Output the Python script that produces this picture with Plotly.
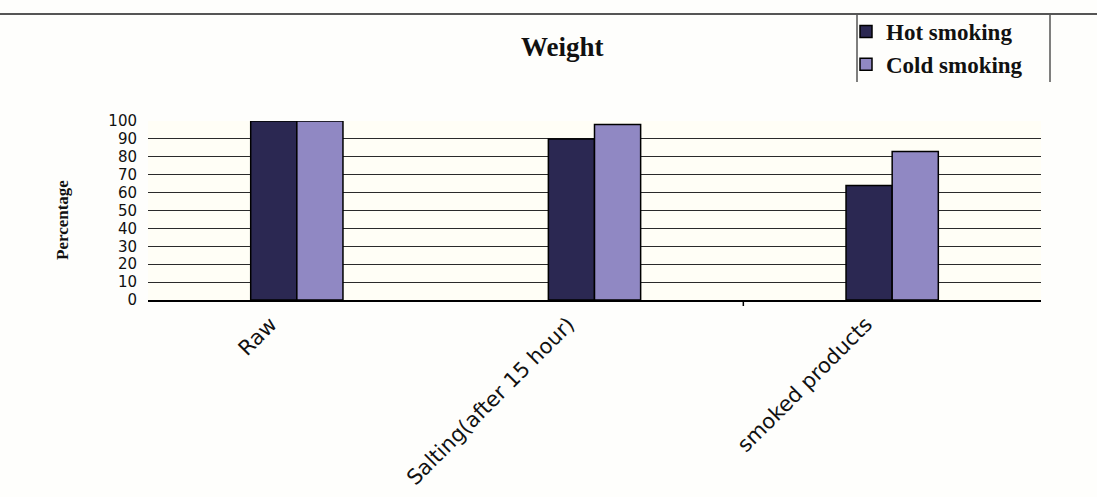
import plotly.graph_objects as go

# Weight retained at each processing stage (percent of raw weight)
stages = ["Raw", "Salting(after 15 hour)", "smoked products"]
hot_smoking = [100, 90, 64]
cold_smoking = [100, 98, 83]
y_ticks = [0, 10, 20, 30, 40, 50, 60, 70, 80, 90, 100]

W, H = 1097, 497
L, R, T, B = 148, 56, 121, 197
PW, PH = W - L - R, 300 - T


def px_x(px):
    return (px - L) / PW


def px_y(py):
    return (300 - py) / PH


fig = go.Figure()
fig.add_trace(go.Bar(
    x=stages, y=hot_smoking, name="Hot smoking",
    marker=dict(color="#2b2852", line=dict(color="#000000", width=1.5)),
))
fig.add_trace(go.Bar(
    x=stages, y=cold_smoking, name="Cold smoking",
    marker=dict(color="#9088c3", line=dict(color="#000000", width=1.5)),
))

fig.update_layout(
    width=W, height=H,
    margin=dict(l=L, r=R, t=T, b=B, autoexpand=False),
    paper_bgcolor="#fefefc",
    plot_bgcolor="#fffef6",
    barmode="group",
    bargap=0.69,
    bargroupgap=0,
    showlegend=True,
    legend=dict(
        x=px_x(846), y=px_y(10),
        xanchor="left", yanchor="top",
        bgcolor="rgba(0,0,0,0)",
        font=dict(family="Liberation Serif", size=23, color="#111111", weight="bold"),
        itemwidth=30,
        tracegroupgap=8,
    ),
    font=dict(family="Liberation Sans", color="#111111"),
)

fig.update_xaxes(
    automargin=False,
    showline=True, linecolor="#000000", linewidth=1.5,
    ticks="", tickangle=-45,
    tickfont=dict(family="DejaVu Sans", size=21, color="#111111"),
    ticklabelshift=-26,
    ticklabelstandoff=2,
    showgrid=False,
)
fig.update_yaxes(
    automargin=False,
    range=[0, 100], tickvals=y_ticks,
    showline=False, zeroline=False,
    showgrid=True, gridcolor="#2a2a2a", gridwidth=1,
    tickfont=dict(family="DejaVu Sans", size=15, color="#111111"),
    ticklabelstandoff=10,
)

# Title
fig.add_annotation(
    text="<b>Weight</b>", xref="paper", yref="paper",
    x=px_x(562), y=px_y(47),
    showarrow=False, xanchor="center", yanchor="middle",
    font=dict(family="Liberation Serif", size=27, color="#111111"),
)
# Y-axis title
fig.add_annotation(
    text="<b>Percentage</b>", xref="paper", yref="paper",
    x=px_x(62), y=px_y(220), textangle=-90,
    showarrow=False, xanchor="center", yanchor="middle",
    font=dict(family="Liberation Serif", size=17, color="#111111"),
)

# Frame around the legend area and rule across the top
fig.add_shape(type="line", xref="paper", yref="paper",
              x0=px_x(0), x1=px_x(W), y0=px_y(14), y1=px_y(14),
              line=dict(color="#555555", width=2))
for px in (857, 1050):
    fig.add_shape(type="line", xref="paper", yref="paper",
                  x0=px_x(px), x1=px_x(px), y0=px_y(14), y1=px_y(82),
                  line=dict(color="#555555", width=1.5))

# Category separator tick below the axis
fig.add_shape(type="line", xref="x", yref="paper",
              x0=1.5, x1=1.5, y0=0, y1=-6 / PH,
              line=dict(color="#000000", width=1.5))

fig.write_html("out.html")
